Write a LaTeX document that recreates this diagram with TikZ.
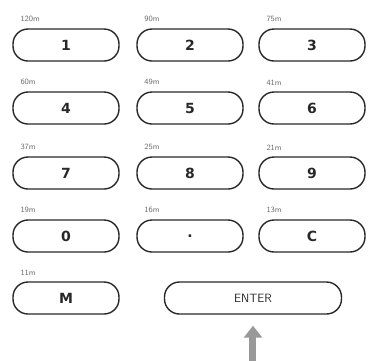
\documentclass[tikz,border=0pt]{standalone}
\usepackage{fontspec}
\newfontfamily\keyfont{DejaVu Sans}
\usepackage{tikz}
\usetikzlibrary{positioning, calc, arrows.meta}
\usepackage{xcolor}
\definecolor{inkkey}{RGB}{40,40,40}
\definecolor{inkmuted}{RGB}{110,110,110}

\begin{document}
\begin{tikzpicture}[x=1pt, y=-1pt,
  keybox/.style={draw=inkkey, line width=1.4pt, rounded corners=15pt,
    minimum width=106pt, minimum height=32pt, inner sep=0pt,
    font=\keyfont\bfseries\fontsize{14}{16}\selectfont, text=inkkey},
  dist/.style={font=\sffamily\footnotesize, text=inkmuted, inner sep=0pt, anchor=south west}]
  \useasboundingbox (0,0) rectangle (368,360);

  % keypad, row by row
  \foreach \n/\x/\y/\t/\d in {%
    1/66/45/1/120m,   2/190/45/2/90m,   3/312/45/3/75m,
    4/66/108/4/60m,   5/190/108/5/49m,  6/312/108/6/41m,
    7/66/173/7/37m,   8/190/173/8/25m,  9/312/173/9/21m,
    0/66/236/0/19m,   dot/190/236/{.}/16m, c/312/236/C/13m,
    m/66/298/M/11m}
  {
    \node[keybox] (k\n) at (\x,\y) {\t};
    \node[dist] (d\n) at ([xshift=8pt, yshift=6pt]k\n.north west) {\d};
  }

  % enter key and pointer
  \node[keybox, minimum width=177pt, font=\sffamily\large] (kenter) at (253,298) {ENTER};
  \coordinate (tail) at (kenter.south |- 0,362);
  \draw[-{Triangle[length=12pt, width=18pt]}, line width=7pt, gray!80, shorten >=11pt]
    (tail) -- (kenter.south);
\end{tikzpicture}
\end{document}
